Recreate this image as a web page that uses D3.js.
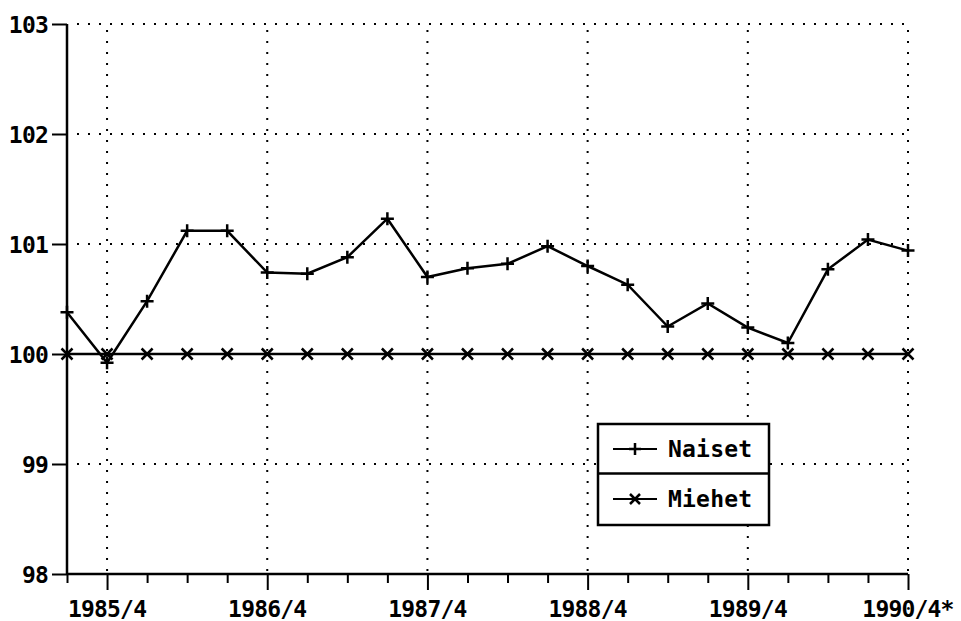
<!DOCTYPE html>
<html><head><meta charset="utf-8">
<script src="https://cdn.jsdelivr.net/npm/d3@7"></script>
<style>body{margin:0;background:#fff}svg{display:block}text{font-family:"DejaVu Sans Mono",monospace;font-weight:bold;fill:#000}</style>
</head><body>
<script>
const quarters = ["1985/3","1985/4","1986/1","1986/2","1986/3","1986/4","1987/1","1987/2","1987/3","1987/4","1988/1","1988/2","1988/3","1988/4","1989/1","1989/2","1989/3","1989/4","1990/1","1990/2","1990/3","1990/4"];
const naiset = [100.38,99.92,100.48,101.12,101.12,100.74,100.73,100.88,101.23,100.70,100.78,100.82,100.98,100.80,100.63,100.25,100.46,100.24,100.10,100.77,101.04,100.94];
const miehet = [100,100,100,100,100,100,100,100,100,100,100,100,100,100,100,100,100,100,100,100,100,100];
const yTicks = [98,99,100,101,102,103];
const xMajor = ["1985/4","1986/4","1987/4","1988/4","1989/4","1990/4"];
const xMajorLabels = ["1985/4","1986/4","1987/4","1988/4","1989/4","1990/4*"];
const legendNames = ["Naiset","Miehet"];

const W=961,H=621;
const svg=d3.select("body").append("svg").attr("width",W).attr("height",H);
const x=d3.scaleLinear().domain([0,quarters.length-1]).range([67,908]);
const y=d3.scaleLinear().domain([98,103]).range([574,24]);
const xi=q=>x(quarters.indexOf(q));

// grid
const g=svg.append("g").attr("stroke","#000").attr("stroke-width",2).attr("stroke-dasharray","2,9");
g.selectAll("line.h").data(yTicks.filter(v=>v!==98)).join("line")
 .attr("x1",x(0)+10).attr("x2",x(quarters.length-1)).attr("y1",d=>y(d)).attr("y2",d=>y(d));
g.selectAll("line.v").data(xMajor).join("line")
 .attr("x1",d=>xi(d)).attr("x2",d=>xi(d)).attr("y1",y(103)+6).attr("y2",y(98));

// axes
const yAxis=d3.axisLeft(y).tickValues(yTicks).tickSize(15).tickPadding(4).tickFormat(d3.format("d"));
const ya=svg.append("g").attr("transform",`translate(${x(0)},0)`).call(yAxis);
ya.select(".domain").attr("stroke-width",2.5).attr("d",`M0,${y(103)}V${y(98)}`);
ya.selectAll(".tick line").attr("stroke-width",2);
ya.selectAll("text").attr("font-size",23).style("letter-spacing","-0.8px").attr("dy","0.36em");

const xAxis=d3.axisBottom(x).tickValues(d3.range(quarters.length)).tickSize(9).tickFormat("");
const xa=svg.append("g").attr("transform",`translate(0,${y(98)})`).call(xAxis);
xa.select(".domain").attr("stroke-width",2.5).attr("d",`M${x(0)},0H${x(quarters.length-1)}`);
xa.selectAll(".tick line").attr("stroke-width",2).attr("y2",d=>quarters[d].endsWith("/4")?16:9);
svg.append("g").selectAll("text").data(xMajor).join("text")
 .attr("x",d=>xi(d)).attr("y",y(98)+43).attr("text-anchor","middle").attr("font-size",23)
 .style("letter-spacing","-0.8px").text((d,i)=>xMajorLabels[i]);

// lines
const line=d3.line().x((d,i)=>x(i)).y(d=>y(d));
svg.append("path").datum(miehet).attr("d",line).attr("fill","none").attr("stroke","#000").attr("stroke-width",2.5);
svg.append("path").datum(naiset).attr("d",line).attr("fill","none").attr("stroke","#000").attr("stroke-width",2.5);

const plus=s=>`M${-s},0H${s}M0,${-s}V${s}`;
const cross=s=>`M${-s},${-s}L${s},${s}M${-s},${s}L${s},${-s}`;
svg.append("g").selectAll("path").data(naiset).join("path")
 .attr("transform",(d,i)=>`translate(${x(i)},${y(d)})`).attr("d",plus(6.5)).attr("stroke","#000").attr("stroke-width",2.5);
svg.append("g").selectAll("path").data(miehet).join("path")
 .attr("transform",(d,i)=>`translate(${x(i)},${y(d)})`).attr("d",cross(5.5)).attr("stroke","#000").attr("stroke-width",2.5);

// legend
const lg=svg.append("g");
lg.append("rect").attr("x",598).attr("y",424).attr("width",171).attr("height",101).attr("fill","#fff").attr("stroke","#000").attr("stroke-width",2.5);
lg.append("line").attr("x1",598).attr("x2",769).attr("y1",473.5).attr("y2",473.5).attr("stroke","#000").attr("stroke-width",2.5);
legendNames.forEach((n,i)=>{
  const cy=449+i*50;
  lg.append("line").attr("x1",613).attr("x2",657).attr("y1",cy).attr("y2",cy).attr("stroke","#000").attr("stroke-width",2);
  lg.append("path").attr("transform",`translate(635,${cy})`).attr("d",i===0?plus(6):cross(5)).attr("stroke","#000").attr("stroke-width",2.5);
  lg.append("text").attr("x",668).attr("y",cy+8).attr("font-size",23).style("letter-spacing","0.2px").text(n);
});
</script>
</body></html>
